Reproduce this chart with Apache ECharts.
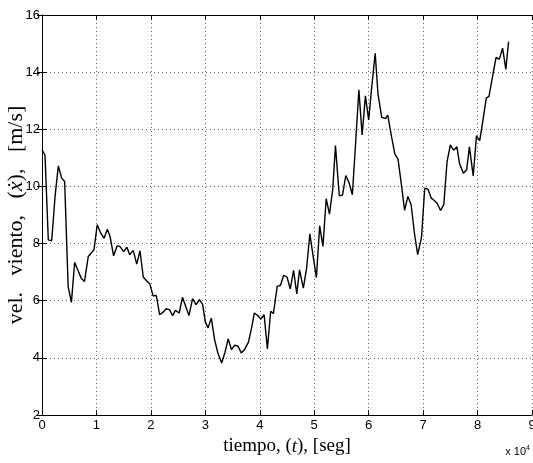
<!DOCTYPE html>
<html>
<head>
<meta charset="utf-8">
<script src="https://cdn.jsdelivr.net/npm/echarts@6/dist/echarts.min.js"></script>
<style>
  html, body { margin: 0; padding: 0; background: #fff; }
  #chart { width: 533px; height: 463px; }
</style>
</head>
<body>
<div id="chart"></div>
<script>
// tiempo [seg] y velocidad del viento [m/s]
const tiempo = [
  0, 550, 1160, 1780, 2400, 3000, 3600, 4160, 4800, 5400,
  6000, 6700, 7200, 7800, 8500, 9000, 9540, 10150, 10770, 11400,
  12000, 12500, 13150, 13800, 14300, 15000, 15600, 16100, 16750, 17400,
  18000, 18600, 19200, 19800, 20400, 21000, 21600, 22200, 22800, 23400,
  24000, 24500, 25200, 25800, 26400, 27000, 27650, 28300, 28900, 29500,
  30000, 30500, 31100, 31700, 32300, 33000, 33600, 34200, 34800, 35400,
  36000, 36600, 37200, 37900, 38500, 39000, 39600, 40200, 40800, 41400,
  42000, 42500, 43200, 43800, 44400, 45000, 45600, 46200, 46800, 47300,
  48000, 48600, 49200, 49800, 50400, 51000, 51600, 52200, 52800, 53400,
  53900, 54600, 55200, 55800, 56400, 57000, 57600, 58200, 58800, 59400,
  60000, 60600, 61200, 61700, 62400, 63100, 63500, 64200, 64800, 65400,
  66000, 66600, 67200, 67800, 68400, 69000, 69700, 70300, 70900, 71500,
  72100, 72600, 73200, 73800, 74400, 75000, 75600, 76200, 76700, 77400,
  78000, 78500, 79200, 79800, 80400, 81000, 81600, 82100, 82800, 83400,
  84000, 84600, 85200, 85700
];
const velocidad = [
  11.28, 11.1, 8.13, 8.1, 9.65, 10.72, 10.29, 10.17, 6.5, 5.94,
  7.34, 7.02, 6.79, 6.67, 7.55, 7.66, 7.78, 8.66, 8.37, 8.19,
  8.5, 8.25, 7.57, 7.92, 7.9, 7.72, 7.87, 7.61, 7.76, 7.28,
  7.75, 6.83, 6.7, 6.59, 6.17, 6.18, 5.51, 5.59, 5.72, 5.69,
  5.48, 5.66, 5.57, 6.12, 5.8, 5.48, 6.07, 5.86, 6.04, 5.87,
  5.25, 5.05, 5.39, 4.64, 4.17, 3.82, 4.19, 4.66, 4.29, 4.44,
  4.41, 4.17, 4.29, 4.54, 5.05, 5.57, 5.48, 5.36, 5.51, 4.31,
  5.63, 5.55, 6.5, 6.54, 6.89, 6.83, 6.41, 7.06, 6.24, 7.08,
  6.44, 7.14, 8.34, 7.55, 6.81, 8.62, 7.9, 9.57, 9.03, 9.9,
  11.43, 9.67, 9.7, 10.38, 10.13, 9.71, 11.5, 13.38, 11.8, 13.17,
  12.33, 13.55, 14.66, 13.26, 12.42, 12.37, 12.5, 11.74, 11.14, 10.95,
  10.08, 9.16, 9.65, 9.36, 8.37, 7.61, 8.21, 9.94, 9.9, 9.59,
  9.5, 9.4, 9.16, 9.36, 10.87, 11.45, 11.27, 11.39, 10.79, 10.46,
  10.58, 11.39, 10.37, 11.77, 11.6, 12.33, 13.09, 13.15, 13.9, 14.52,
  14.45, 14.84, 14.1, 15.07
];
const xTicks = [0, 1, 2, 3, 4, 5, 6, 7, 8, 9];
const yTicks = [2, 4, 6, 8, 10, 12, 14, 16];

const chart = echarts.init(document.getElementById('chart'));

const tickFont = {
  fontFamily: '"Liberation Sans Narrow", "Liberation Sans", Arial, sans-serif',
  fontSize: 13,
  color: '#000'
};
const serif = '"Liberation Serif", "DejaVu Serif", serif';
const gridDots = { show: true, lineStyle: { color: '#666', type: [1, 3], width: 1 } };

chart.setOption({
  animation: false,
  grid: { left: 42, top: 15, right: 1, bottom: 48, outerBoundsMode: 'none', containLabel: false },
  xAxis: [{
    type: 'value',
    min: 0,
    max: 90000,
    interval: 10000,
    axisLine: { lineStyle: { color: '#000', width: 1 } },
    axisTick: { inside: true, length: 5, lineStyle: { color: '#000' } },
    axisLabel: Object.assign({ margin: 4, formatter: v => String(xTicks[Math.round(v / 10000)]) }, tickFont),
    splitLine: gridDots,
    name: 'tiempo, ({i|t}), [seg]',
    nameLocation: 'middle',
    nameGap: 22,
    nameTextStyle: {
      fontFamily: serif,
      fontSize: 19,
      color: '#000',
      rich: { i: { fontFamily: serif, fontSize: 19, fontStyle: 'italic', color: '#000' } }
    }
  }, {
    type: 'value',
    position: 'top',
    min: 0,
    max: 90000,
    interval: 10000,
    axisLine: { show: true, lineStyle: { color: '#000', width: 1 } },
    axisTick: { inside: true, length: 5, lineStyle: { color: '#000' } },
    axisLabel: { show: false },
    splitLine: { show: false }
  }],
  yAxis: [{
    type: 'value',
    min: 2,
    max: 16,
    interval: 2,
    axisLine: { show: true, lineStyle: { color: '#000', width: 1 } },
    axisTick: { show: true, inside: true, length: 5, lineStyle: { color: '#000' } },
    axisLabel: Object.assign({ margin: 2, formatter: v => String(yTicks[Math.round((v - 2) / 2)]) }, tickFont),
    splitLine: gridDots,
    name: 'vel.   viento,   ({i|ẋ}),   [m/s]',
    nameLocation: 'middle',
    nameGap: 15,
    nameMoveOverlap: false,
    nameTextStyle: {
      fontFamily: serif,
      fontSize: 22,
      color: '#000',
      rich: { i: { fontFamily: serif, fontSize: 22, fontStyle: 'italic', color: '#000' } }
    }
  }, {
    type: 'value',
    position: 'right',
    min: 2,
    max: 16,
    interval: 2,
    axisLine: { show: true, lineStyle: { color: '#000', width: 1 } },
    axisTick: { show: true, inside: true, length: 5, lineStyle: { color: '#000' } },
    axisLabel: { show: false },
    splitLine: { show: false }
  }],
  graphic: [{
    type: 'text',
    right: 3,
    top: 445,
    style: {
      text: 'x 10{s|4}',
      rich: { s: { fontSize: 7, verticalAlign: 'top', padding: [0, 0, 6, 0] } },
      fontFamily: '"Liberation Sans Narrow", "Liberation Sans", Arial, sans-serif',
      fontSize: 11,
      fill: '#000'
    }
  }],
  series: [{
    type: 'line',
    data: tiempo.map((t, i) => [t, velocidad[i]]),
    showSymbol: false,
    lineStyle: { color: '#000', width: 1.4 },
    silent: true
  }]
});
</script>
</body>
</html>
